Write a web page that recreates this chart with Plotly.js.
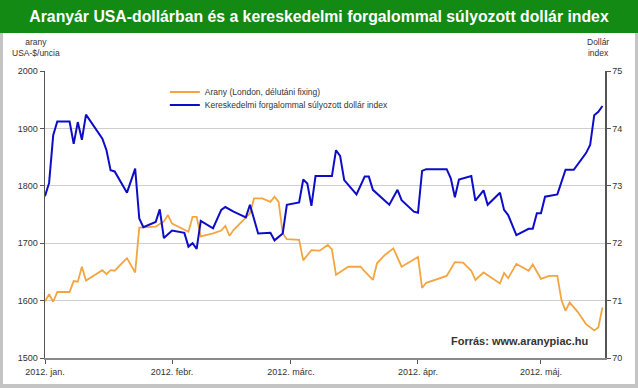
<!DOCTYPE html>
<html>
<head>
<meta charset="utf-8">
<script src="https://cdn.plot.ly/plotly-3.0.1.min.js"></script>
<style>
  html, body { margin: 0; padding: 0; background: #ffffff; }
  #wrap { position: relative; width: 638px; height: 388px; background: #c4c4c4; overflow: hidden; }
  #band { position: absolute; left: 0; top: 0; width: 638px; height: 33px; background: #138a13; }
  #panel { position: absolute; left: 3px; top: 33px; width: 632px; height: 351px; background: #ffffff; }
  #chart { position: absolute; left: 0; top: 0; width: 638px; height: 388px; }
</style>
</head>
<body>
<div id="wrap">
  <div id="band"></div>
  <div id="panel"></div>
  <div id="chart"></div>
</div>
<script>
// Gold price, London PM fixing (USD/oz)
var goldDates = ['2012-01-03','2012-01-04','2012-01-05','2012-01-06','2012-01-09','2012-01-10','2012-01-11','2012-01-12','2012-01-13',
  '2012-01-17','2012-01-18','2012-01-19','2012-01-20','2012-01-23','2012-01-25','2012-01-26','2012-01-30',
  '2012-02-01','2012-02-02','2012-02-03','2012-02-07','2012-02-08','2012-02-09','2012-02-10','2012-02-13','2012-02-15','2012-02-16','2012-02-17','2012-02-18',
  '2012-02-21','2012-02-22','2012-02-23','2012-02-25','2012-02-27','2012-02-28','2012-02-29',
  '2012-03-01','2012-03-02','2012-03-05','2012-03-06','2012-03-08','2012-03-10','2012-03-12','2012-03-13','2012-03-14','2012-03-17','2012-03-20','2012-03-21',
  '2012-03-23','2012-03-24','2012-03-26','2012-03-28','2012-03-30',
  '2012-04-03','2012-04-04','2012-04-05','2012-04-10','2012-04-12','2012-04-14','2012-04-16','2012-04-17','2012-04-19','2012-04-21','2012-04-23','2012-04-24','2012-04-25','2012-04-27','2012-04-30',
  '2012-05-01','2012-05-03','2012-05-05','2012-05-07','2012-05-08','2012-05-09','2012-05-10','2012-05-12','2012-05-14','2012-05-16','2012-05-17','2012-05-18'];
var goldValues = [1599,1611,1598,1615,1615,1634,1633,1659,1635,
  1653,1646,1653,1652,1674,1649,1727,1729,
  1738,1749,1734,1720,1746,1746,1712,1717,1722,1730,1713,1723,
  1745,1752,1778,1778,1772,1781,1772,
  1717,1707,1706,1670,1688,1687,1697,1689,1645,1659,1659,1651,
  1636,1665,1680,1691,1659,
  1676,1622,1631,1643,1667,1666,1652,1636,1649,1640,1630,1648,1639,1664,1652,
  1663,1638,1643,1643,1601,1582,1597,1580,1559,1548,1553,1588];

// Trade-weighted dollar index
var usdDates = ['2012-01-03','2012-01-04','2012-01-05','2012-01-06','2012-01-09','2012-01-10','2012-01-11','2012-01-12','2012-01-13',
  '2012-01-17','2012-01-18','2012-01-19','2012-01-20','2012-01-23','2012-01-25','2012-01-26','2012-01-27','2012-01-30','2012-01-31',
  '2012-02-01','2012-02-03','2012-02-06','2012-02-07','2012-02-08','2012-02-09','2012-02-10','2012-02-13','2012-02-15','2012-02-16','2012-02-18',
  '2012-02-21','2012-02-22','2012-02-24','2012-02-27','2012-02-28',
  '2012-03-01','2012-03-02','2012-03-05','2012-03-06','2012-03-07','2012-03-08','2012-03-09','2012-03-13','2012-03-14','2012-03-15','2012-03-16',
  '2012-03-19','2012-03-21','2012-03-22','2012-03-23','2012-03-27','2012-03-29','2012-03-30',
  '2012-04-02','2012-04-03','2012-04-04','2012-04-05','2012-04-10','2012-04-11','2012-04-12','2012-04-13','2012-04-16','2012-04-17','2012-04-19','2012-04-20',
  '2012-04-23','2012-04-24','2012-04-25','2012-04-27','2012-04-29','2012-04-30',
  '2012-05-01','2012-05-02','2012-05-03','2012-05-04','2012-05-07','2012-05-09','2012-05-11','2012-05-14','2012-05-15','2012-05-16','2012-05-17','2012-05-18'];
var usdValues = [72.82,73.05,73.88,74.12,74.12,73.73,74.11,73.80,74.24,
  73.82,73.62,73.27,73.25,72.88,73.30,72.43,72.28,72.37,72.59,
  72.09,72.22,72.18,71.94,72.00,71.90,72.39,72.26,72.58,72.63,72.55,
  72.45,72.67,72.17,72.18,72.05,
  72.17,72.67,72.71,73.11,73.04,72.65,73.17,73.17,73.62,73.52,73.10,
  72.85,73.16,73.16,72.93,72.67,72.93,72.75,
  72.55,72.53,73.26,73.29,73.29,73.13,72.80,73.11,73.17,72.74,72.92,72.67,
  72.88,72.58,72.49,72.14,72.22,72.25,
  72.25,72.52,72.52,72.81,72.85,73.28,73.28,73.57,73.71,74.23,74.29,74.39];

var monthTicks = ['2012-01-03','2012-02-03','2012-03-03','2012-04-03','2012-05-03'];
var monthLabels = ['2012. jan.','2012. febr.','2012. márc.','2012. ápr.','2012. máj.'];

var FONT = 'Liberation Sans, Arial, sans-serif';

var traces = [
  {x: goldDates, y: goldValues, type: 'scatter', mode: 'lines', name: 'Arany (London, délutáni fixing)',
   line: {color: '#F2A540', width: 1.8}, yaxis: 'y', legend: 'legend'},
  {x: usdDates, y: usdValues, type: 'scatter', mode: 'lines', name: 'Kereskedelmi forgalommal súlyozott dollár index',
   line: {color: '#0D0DC8', width: 2}, yaxis: 'y2', legend: 'legend2'}
];

var legendBase = {xanchor: 'left', yanchor: 'middle', bgcolor: 'rgba(0,0,0,0)', borderwidth: 0,
  font: {family: FONT, size: 8.5, color: '#333333'}, itemwidth: 30};

var layout = {
  width: 638, height: 388,
  paper_bgcolor: 'rgba(0,0,0,0)', plot_bgcolor: 'rgba(0,0,0,0)',
  margin: {l: 45, r: 33, t: 71, b: 30},
  showlegend: true,
  title: {text: '<b>Aranyár USA-dollárban és a kereskedelmi forgalommal súlyozott dollár index</b>',
    font: {family: FONT, size: 15.8, color: '#ffffff'}, x: 0.5, xanchor: 'center', y: 1 - 16/388, yanchor: 'middle', yref: 'container'},
  xaxis: {type: 'date', range: ['2012-01-03', '2012-05-18 15:00'], tickmode: 'array', tickvals: monthTicks, ticktext: monthLabels,
    showgrid: false, zeroline: false, showline: true, linecolor: '#8a8a8a', linewidth: 2,
    ticks: 'outside', ticklen: 4, tickcolor: '#555555', tickwidth: 1,
    tickfont: {family: FONT, size: 9, color: '#333333'}},
  yaxis: {range: [1500, 2000], dtick: 100, tick0: 1500, showgrid: true, gridcolor: '#cfcfcf', gridwidth: 1, zeroline: false,
    showline: true, linecolor: '#555555', linewidth: 1.5, ticks: 'outside', ticklen: 4, tickcolor: '#555555',
    tickfont: {family: FONT, size: 9, color: '#333333'}},
  yaxis2: {range: [70, 75], dtick: 1, tick0: 70, overlaying: 'y', side: 'right', showgrid: false, zeroline: false,
    showline: true, linecolor: '#555555', linewidth: 1.5, ticks: 'outside', ticklen: 4, tickcolor: '#555555',
    tickfont: {family: FONT, size: 9, color: '#333333'}},
  legend: Object.assign({x: 0.214, y: (358 - 92) / 287}, legendBase),
  legend2: Object.assign({x: 0.214, y: (358 - 105) / 287}, legendBase),
  annotations: [
    {xref: 'paper', yref: 'paper', x: -9/560, y: 1 + 24/287, xanchor: 'center', yanchor: 'middle', showarrow: false,
     text: 'arany<br>USA-$/uncia', font: {family: FONT, size: 8.5, color: '#333333'}},
    {xref: 'paper', yref: 'paper', x: 1 - 7/560, y: 1 + 24/287, xanchor: 'center', yanchor: 'middle', showarrow: false,
     text: 'Dollár<br>index', font: {family: FONT, size: 8.5, color: '#333333'}},
    {xref: 'paper', yref: 'paper', x: 474/560, y: 17/287, xanchor: 'center', yanchor: 'middle', showarrow: false,
     text: '<b>Forrás: www.aranypiac.hu</b>', font: {family: FONT, size: 11, color: '#333333'}}
  ]
};

Plotly.newPlot('chart', traces, layout, {displayModeBar: false, staticPlot: true});
</script>
</body>
</html>
